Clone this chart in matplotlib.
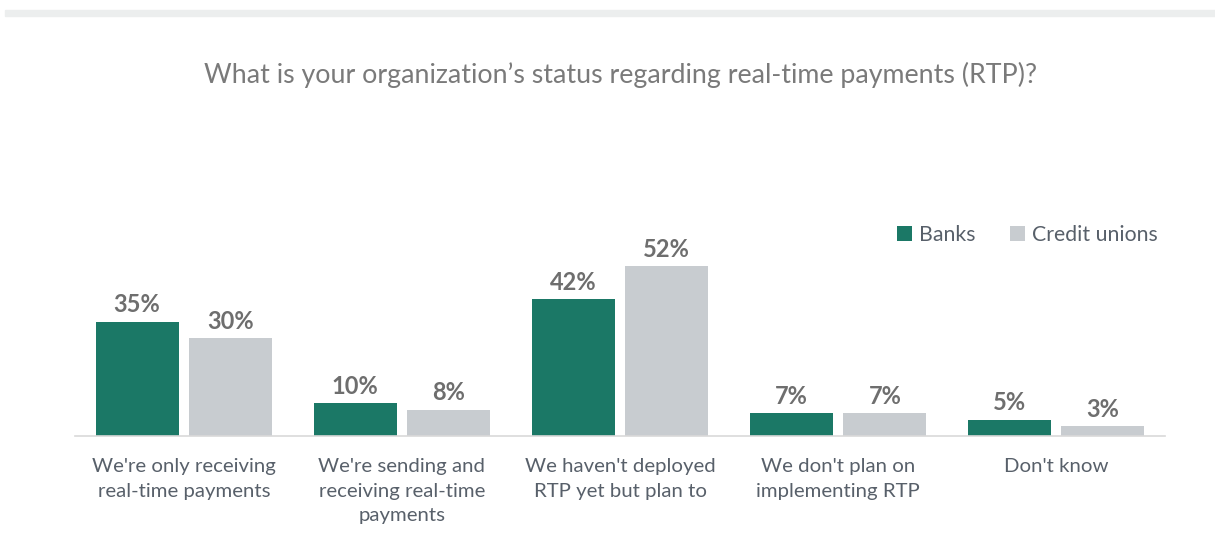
import matplotlib
matplotlib.use("Agg")
import matplotlib.pyplot as plt
from matplotlib.patches import Rectangle
import numpy as np

categories = ["We're only receiving\nreal-time payments",
              "We're sending and\nreceiving real-time\npayments",
              "We haven't deployed\nRTP yet but plan to",
              "We don't plan on\nimplementing RTP",
              "Don't know"]
banks = [35, 10, 42, 7, 5]
credit_unions = [30, 8, 52, 7, 3]
series_names = ["Banks", "Credit unions"]

GREEN = "#1b7866"
GRAY = "#c8ccd0"
TXT = "#58606a"
LBL = "#6e6e6e"

plt.rcParams['font.family'] = ['Lato', 'DejaVu Sans']

W, H = 1215, 539
fig = plt.figure(figsize=(W / 100, H / 100), dpi=100)

# top gray band
fig.patches.append(Rectangle((5 / W, 1 - 16 / H), 1 - 5 / W, 6 / H,
                             transform=fig.transFigure, color="#eceeee", zorder=0))

ax = fig.add_axes([75 / W, 103 / H, 1090 / W, 236 / H])
x = np.arange(len(categories))
bw = 0.38
off = 0.215
b1 = ax.bar(x - off, banks, bw, color=GREEN, label=series_names[0])
b2 = ax.bar(x + off, credit_unions, bw, color=GRAY, label=series_names[1])
ax.set_xlim(-0.5, len(categories) - 0.5)
ax.set_ylim(0, 236 / 3.26)

for bars, vals in ((b1, banks), (b2, credit_unions)):
    for r, v in zip(bars, vals):
        ax.annotate(f"{v}%", (r.get_x() + r.get_width() / 2, r.get_height()),
                    xytext=(0, 4), textcoords="offset points", ha="center", va="bottom",
                    fontsize=17, fontweight="bold", color=LBL)

for s in ("top", "right", "left"):
    ax.spines[s].set_visible(False)
ax.spines["bottom"].set_color("#d9d9d9")
ax.spines["bottom"].set_linewidth(1.2)
ax.set_yticks([])
ax.set_xticks(x)
ax.set_xticklabels(categories, fontsize=14.7, color=TXT, linespacing=1.52)
ax.tick_params(axis="x", length=0, pad=16)

fig.text(620 / W, 1 - 75 / H, "What is your organization\u2019s status regarding real-time payments (RTP)?",
         ha="center", va="center", fontsize=19.3, color="#7a7a7a")

leg = ax.legend(loc="upper right", bbox_to_anchor=(1158 / W, 1 - 225 / H),
                bbox_transform=fig.transFigure, ncol=2, frameon=False,
                fontsize=15.3, handlelength=0.7, handleheight=0.7,
                handletextpad=0.35, columnspacing=1.6, labelcolor=TXT,
                borderaxespad=0, borderpad=0)

fig.savefig("out.png", dpi=100)
